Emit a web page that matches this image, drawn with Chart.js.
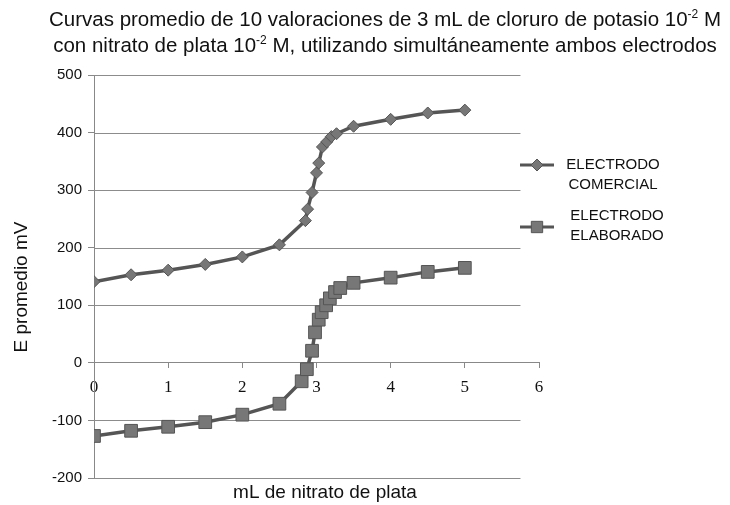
<!DOCTYPE html>
<html>
<head>
<meta charset="utf-8">
<script src="https://cdn.jsdelivr.net/npm/chart.js@4/dist/chart.umd.min.js"></script>
<style>
  body { margin: 0; background: #fff; }
  #wrap { position: relative; width: 730px; height: 505px; }
  #title {
    position: absolute; left: 20px; top: 6px; width: 730px;
    text-align: center; font: 20.5px "Liberation Sans", Arial, sans-serif;
    line-height: 26px; color: #111; white-space: nowrap;
  }
  #title sup { font-size: 12px; line-height: 0; vertical-align: 8px; }
</style>
</head>
<body>
<div id="wrap">
  <canvas id="chart" width="730" height="505"></canvas>
  <div id="title">Curvas promedio de 10 valoraciones de 3 mL de cloruro de potasio 10<sup>-2</sup> M<br>con nitrato de plata 10<sup>-2</sup> M, utilizando simultáneamente ambos electrodos</div>
</div>
<script>
const comercialX = [0, 0.5, 1, 1.5, 2, 2.5, 2.85, 2.88, 2.94, 3.0, 3.03, 3.08, 3.14, 3.2, 3.27, 3.5, 4, 4.5, 5];
const comercialY = [141, 153, 161, 171, 184, 205, 247, 267, 296, 330, 347, 375, 384, 393, 398, 411, 423, 434, 439];
const elaboradoX = [0, 0.5, 1, 1.5, 2, 2.5, 2.8, 2.87, 2.94, 2.98, 3.03, 3.07, 3.13, 3.18, 3.25, 3.32, 3.5, 4, 4.5, 5];
const elaboradoY = [-127, -118, -111, -103, -90, -71, -32, -11, 21, 53, 75, 88, 100, 112, 123, 130, 139, 148, 158, 165];
const seriesNames = [['ELECTRODO', 'COMERCIAL'], ['ELECTRODO', 'ELABORADO']];
const xTitle = 'mL de nitrato de plata';
const yTitle = 'E promedio mV';

const lineColor = '#555';
const markerFill = '#777';

function points(xs, ys) {
  return xs.map((x, i) => ({ x, y: ys[i] }));
}

const extras = {
  id: 'extras',
  beforeDatasetsDraw(chart) {
    const { ctx, chartArea, scales } = chart;
    const right = scales.x.getPixelForValue(5.75);
    ctx.save();
    ctx.strokeStyle = '#8c8c8c';
    ctx.lineWidth = 1;
    scales.y.ticks.forEach(t => {
      if (t.value === 0) return;
      const y = Math.round(scales.y.getPixelForValue(t.value)) + 0.5;
      ctx.beginPath();
      ctx.moveTo(chartArea.left, y);
      ctx.lineTo(right, y);
      ctx.stroke();
    });
    ctx.restore();
  },
  afterDraw(chart) {
    const { ctx } = chart;
    ctx.save();
    ctx.fillStyle = '#111';
    ctx.font = '19px "Liberation Sans", Arial, sans-serif';
    ctx.textAlign = 'center';
    ctx.textBaseline = 'middle';
    ctx.fillText(xTitle, 325, 493);
    ctx.translate(22, 287);
    ctx.rotate(-Math.PI / 2);
    ctx.fillText(yTitle, 0, 0);
    ctx.restore();

    // legend
    const items = [
      { style: 'rectRot', radius: 6, lineY: 165, textY: [165, 185], cx: 613 },
      { style: 'rect', radius: 8, lineY: 227, textY: [216, 236], cx: 617 },
    ];
    ctx.save();
    items.forEach((it, i) => {
      ctx.strokeStyle = lineColor;
      ctx.lineWidth = 3;
      ctx.beginPath();
      ctx.moveTo(520, it.lineY);
      ctx.lineTo(554, it.lineY);
      ctx.stroke();
      ctx.fillStyle = markerFill;
      ctx.lineWidth = 1;
      Chart.helpers.drawPoint(ctx, { pointStyle: it.style, radius: it.radius, borderWidth: 1 }, 537, it.lineY);
      ctx.fillStyle = '#111';
      ctx.font = '15px "Liberation Sans", Arial, sans-serif';
      ctx.textAlign = 'center';
      ctx.textBaseline = 'middle';
      seriesNames[i].forEach((s, j) => ctx.fillText(s, it.cx, it.textY[j]));
    });
    ctx.restore();
  }
};

new Chart(document.getElementById('chart'), {
  type: 'scatter',
  data: {
    datasets: [
      {
        label: seriesNames[0].join(' '),
        data: points(comercialX, comercialY),
        showLine: true,
        borderColor: lineColor,
        borderWidth: 3.5,
        backgroundColor: markerFill,
        pointStyle: 'rectRot',
        pointRadius: 6,
        pointBorderColor: lineColor,
        pointBorderWidth: 1,
      },
      {
        label: seriesNames[1].join(' '),
        data: points(elaboradoX, elaboradoY),
        showLine: true,
        borderColor: lineColor,
        borderWidth: 3.5,
        backgroundColor: markerFill,
        pointStyle: 'rect',
        pointRadius: 9,
        pointBorderColor: lineColor,
        pointBorderWidth: 1,
      },
    ],
  },
  options: {
    responsive: false,
    animation: false,
    layout: { padding: { left: 0, top: 75, right: 191, bottom: 27 } },
    plugins: { legend: { display: false }, tooltip: { enabled: false } },
    scales: {
      x: {
        type: 'linear',
        position: { y: 0 },
        min: 0,
        max: 6,
        ticks: { stepSize: 1, color: '#111', padding: 9, font: { family: '"Liberation Serif", "Times New Roman", serif', size: 17 } },
        grid: { drawOnChartArea: false, tickLength: 5, color: '#888' },
        border: { color: '#888', width: 1 },
      },
      y: {
        min: -200,
        max: 500,
        ticks: { stepSize: 100, color: '#111', padding: 6, font: { family: '"Liberation Sans", Arial, sans-serif', size: 15 } },
        grid: { drawOnChartArea: false, tickLength: 6, color: '#888' },
        border: { color: '#888', width: 1 },
        afterFit(scale) { scale.width = 94; },
      },
    },
  },
  plugins: [extras],
});
</script>
</body>
</html>
